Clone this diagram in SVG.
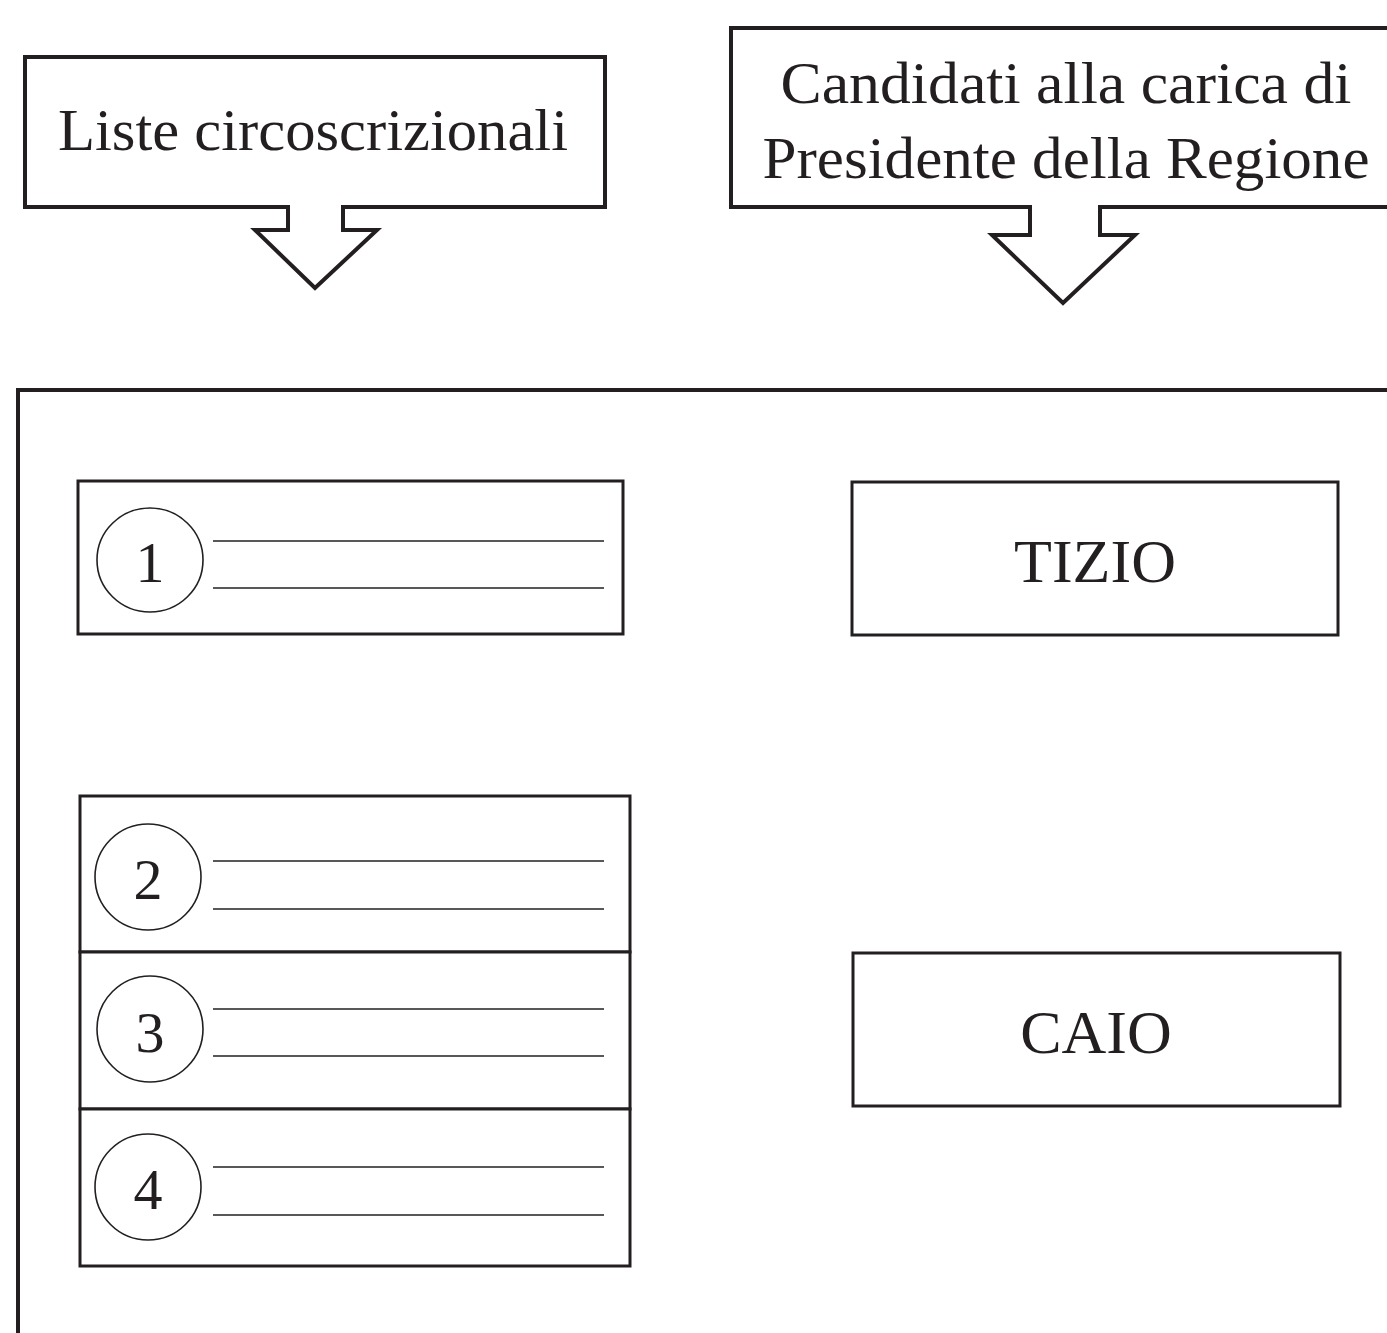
<svg xmlns="http://www.w3.org/2000/svg" width="1387" height="1333" viewBox="0 0 1387 1333">
<style>
.thick{fill:#fff;stroke:#231f20;stroke-width:4;stroke-linejoin:miter}
.box{fill:#fff;stroke:#231f20;stroke-width:3}
.circ{fill:none;stroke:#231f20;stroke-width:1.6}
.ln{stroke:#231f20;stroke-width:1.6}
.t{font-family:"Liberation Serif","Times New Roman",serif;fill:#231f20;text-anchor:middle}
</style>
<rect width="1387" height="1333" fill="#fff"/>
<g id="frame"><path class="thick" fill="none" d="M1392,390 H18 V1340" style="fill:none"/></g>
<g id="callout-liste">
<path class="thick" d="M25,57 H605 V207 H343 V230 H377 L315,288 L255,230 H288 V207 H25 Z"/>
<text class="t" x="313" y="150" font-size="60" textLength="510" lengthAdjust="spacingAndGlyphs">Liste circoscrizionali</text>
</g>
<g id="callout-candidati">
<path class="thick" d="M731,28 H1392 V207 H1100 V235 H1135 L1063,303 L992,235 H1030 V207 H731 Z"/>
<text class="t" x="1066" y="103" font-size="60" textLength="571" lengthAdjust="spacingAndGlyphs">Candidati alla carica di</text>
<text class="t" x="1066" y="178" font-size="60" textLength="607" lengthAdjust="spacingAndGlyphs">Presidente della Regione</text>
</g>
<g id="lista-1">
<rect class="box" x="78" y="481" width="545" height="153"/>
<ellipse class="circ" cx="150" cy="560" rx="53" ry="52"/>
<line class="ln" x1="213" y1="541" x2="604" y2="541"/>
<line class="ln" x1="213" y1="588" x2="604" y2="588"/>
<text class="t" x="150" y="582" font-size="58">1</text>
</g>
<g id="lista-2">
<rect class="box" x="80" y="796" width="550" height="156"/>
<ellipse class="circ" cx="148" cy="877" rx="53" ry="53"/>
<line class="ln" x1="213" y1="861" x2="604" y2="861"/>
<line class="ln" x1="213" y1="909" x2="604" y2="909"/>
<text class="t" x="148" y="899" font-size="58">2</text>
</g>
<g id="lista-3">
<rect class="box" x="80" y="952" width="550" height="157"/>
<ellipse class="circ" cx="150" cy="1029" rx="53" ry="53"/>
<line class="ln" x1="213" y1="1009" x2="604" y2="1009"/>
<line class="ln" x1="213" y1="1056" x2="604" y2="1056"/>
<text class="t" x="150" y="1052" font-size="58">3</text>
</g>
<g id="lista-4">
<rect class="box" x="80" y="1109" width="550" height="157"/>
<ellipse class="circ" cx="148" cy="1187" rx="53" ry="53"/>
<line class="ln" x1="213" y1="1167" x2="604" y2="1167"/>
<line class="ln" x1="213" y1="1215" x2="604" y2="1215"/>
<text class="t" x="148" y="1209" font-size="58">4</text>
</g>
<g id="tizio">
<rect class="box" x="852" y="482" width="486" height="153"/>
<text class="t" x="1095" y="582" font-size="62">TIZIO</text>
</g>
<g id="caio">
<rect class="box" x="853" y="953" width="487" height="153"/>
<text class="t" x="1096" y="1053" font-size="62">CAIO</text>
</g>
<g id="connectors"></g>
</svg>
